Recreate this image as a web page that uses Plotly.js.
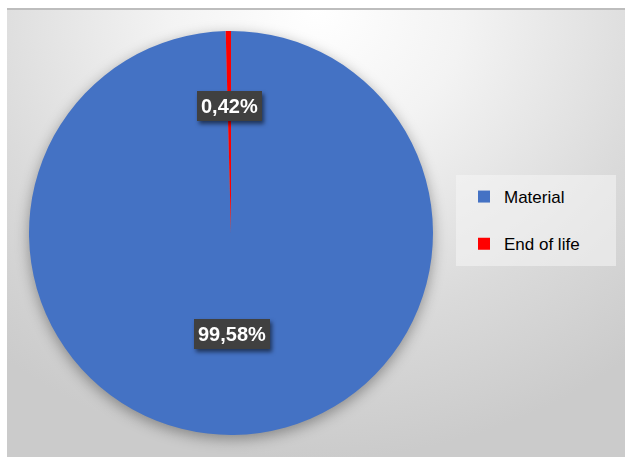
<!DOCTYPE html>
<html>
<head>
<meta charset="utf-8">
<script src="https://cdn.plot.ly/plotly-3.0.1.min.js"></script>
<style>
  html, body { margin: 0; padding: 0; background: #ffffff; }
  #bg {
    position: absolute; left: 7px; top: 8px; width: 618px; height: 449px;
    border-top: 2px solid #bdbdbd;
    background: radial-gradient(ellipse 80% 100% at 50% 0%, #ffffff 0%, #f3f3f3 30%, #dadada 70%, #cbcbcb 100%);
  }
  #chart { position: absolute; left: 0; top: 0; width: 625px; height: 457px; }
  .pielayer { filter: drop-shadow(0px 4px 7px rgba(0,0,0,0.35)); }
  .annotation { filter: drop-shadow(2px 3px 2px rgba(0,0,0,0.55)); }
</style>
</head>
<body>
<div id="bg"></div>
<div id="chart"></div>
<script>
const categories = ['Material', 'End of life'];
const values = [99.58, 0.42];
const colors = ['#4472C4', '#FF0000'];

const W = 625, H = 457;
const cx = 231, cy = 233, R = 202;

const total = values.reduce((a, b) => a + b, 0);
const pctText = values.map(v => (v / total * 100).toFixed(2).replace('.', ',') + '%');

// legend labels: extra blank line to widen item spacing
const legendLabels = categories.map(c => c + '<br>&nbsp;');

const trace = {
  type: 'pie',
  labels: legendLabels,
  values: values,
  sort: false,
  direction: 'clockwise',
  rotation: 0,
  marker: { colors: colors, line: { width: 0 } },
  textinfo: 'none',
  hoverinfo: 'none',
  domain: {
    x: [(cx - R) / W, (cx + R) / W],
    y: [(H - cy - R) / H, (H - cy + R) / H]
  }
};

// label positions computed from slice mid-angles
const labelRadius = [0.5, 0.63];
let cum = 0;
const annotations = values.map((v, i) => {
  const mid = (cum + v / 2) / total * 2 * Math.PI;
  cum += v;
  const px = cx + Math.sin(mid) * R * labelRadius[i];
  const py = cy - Math.cos(mid) * R * labelRadius[i];
  return {
    x: px / W, y: (H - py) / H, xref: 'paper', yref: 'paper',
    xanchor: 'center', yanchor: 'middle',
    text: '<b>' + pctText[i] + '</b>', showarrow: false,
    font: { family: 'Liberation Sans, Arial, sans-serif', size: 20, color: '#ffffff' },
    bgcolor: '#404040', borderpad: 4, borderwidth: 0
  };
});

const layout = {
  width: W, height: H,
  margin: { l: 0, r: 0, t: 0, b: 0 },
  paper_bgcolor: 'rgba(0,0,0,0)',
  plot_bgcolor: 'rgba(0,0,0,0)',
  showlegend: true,
  legend: {
    x: 464 / W, xanchor: 'left',
    y: (H - 179) / H, yanchor: 'top',
    bgcolor: 'rgba(0,0,0,0)',
    valign: 'top',
    font: { family: 'Liberation Sans, Arial, sans-serif', size: 17, color: '#000000' }
  },
  shapes: [{
    type: 'rect', xref: 'paper', yref: 'paper',
    x0: 456 / W, x1: 616 / W, y0: (H - 266) / H, y1: (H - 175) / H,
    fillcolor: 'rgba(245,245,245,0.55)', line: { width: 0 }, layer: 'below'
  }],
  annotations: annotations
};

Plotly.newPlot('chart', [trace], layout, { displayModeBar: false, staticPlot: true });
</script>
</body>
</html>
